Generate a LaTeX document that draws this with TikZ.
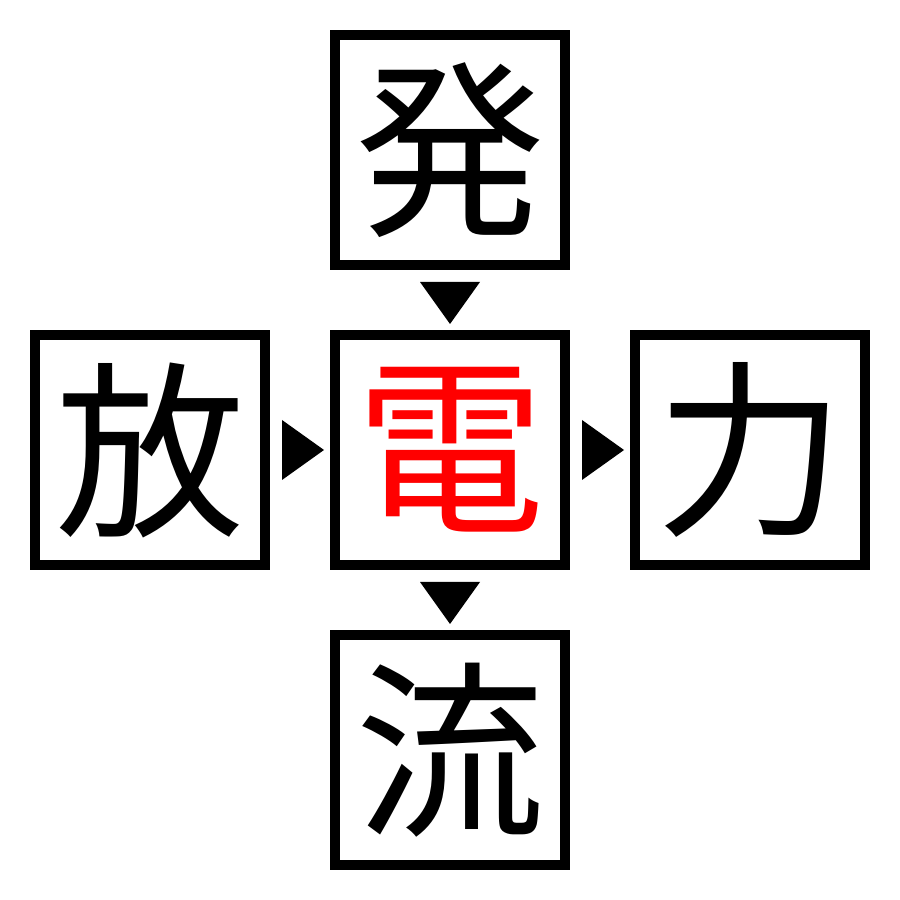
\documentclass[tikz,border=0pt]{standalone}
\usepackage{fontspec}
\usepackage{xcolor}
\usetikzlibrary{calc}
\newfontfamily\jpfont{Noto Sans CJK JP}

\tikzset{
	kanjibox/.style={draw, line width=0.1cm, minimum size=2.3cm, inner sep=0pt, font=\jpfont\fontsize{54}{54}\selectfont},
	arrowtri/.style={fill=black}
}

\begin{document}
\begin{tikzpicture}
		      		\useasboundingbox (0,0) rectangle (9,9);

		      		\node[kanjibox] (hatsu) at (4.5,7.5) {発};
		      		\node[kanjibox, text=red] (den) at (4.5,4.5) {電};
		      		\node[kanjibox] (hou) at (1.5,4.5) {放};
		      		\node[kanjibox] (ryoku) at (7.5,4.5) {力};
		      		\node[kanjibox] (ryuu) at (4.5,1.5) {流};

		      		% triangles in the gaps
		      		\coordinate (t1) at ($(hatsu.south)!0.5!(den.north)+(0,-0.03)$);
		      		\coordinate (t2) at ($(den.south)!0.5!(ryuu.north)+(0,-0.03)$);
		      		\coordinate (t3) at ($(hou.east)!0.5!(den.west)+(0.03,0)$);
		      		\coordinate (t4) at ($(den.east)!0.5!(ryoku.west)+(0.03,0)$);

		      		\fill[arrowtri] ($(t1)+(-0.3,0.21)$) -- ($(t1)+(0.3,0.21)$) -- ($(t1)+(0,-0.21)$) -- cycle;
		      		\fill[arrowtri] ($(t2)+(-0.3,0.21)$) -- ($(t2)+(0.3,0.21)$) -- ($(t2)+(0,-0.21)$) -- cycle;
		      		\fill[arrowtri] ($(t3)+(-0.21,0.3)$) -- ($(t3)+(-0.21,-0.3)$) -- ($(t3)+(0.21,0)$) -- cycle;
		      		\fill[arrowtri] ($(t4)+(-0.21,0.3)$) -- ($(t4)+(-0.21,-0.3)$) -- ($(t4)+(0.21,0)$) -- cycle;
		      	\end{tikzpicture}
\end{document}
